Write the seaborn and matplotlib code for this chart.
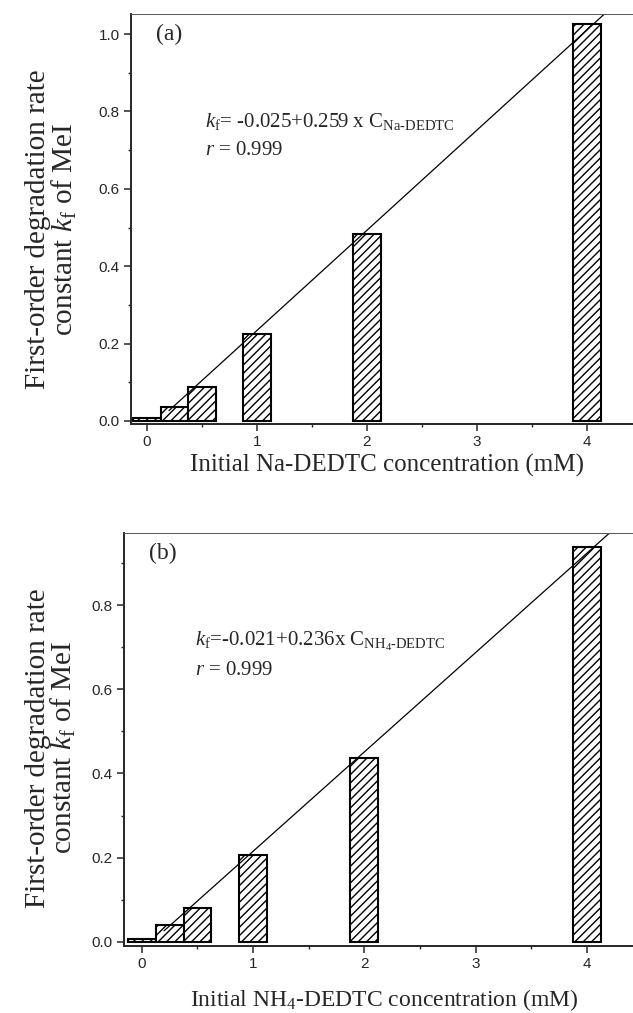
import numpy as np
import matplotlib
matplotlib.use("Agg")
import matplotlib.pyplot as plt
from matplotlib.ticker import MultipleLocator
import seaborn as sns

# data
conc_a = [0, 0.25, 0.5, 1, 2, 4]
kf_a = [0.007, 0.035, 0.089, 0.225, 0.483, 1.025]
conc_b = [0, 0.25, 0.5, 1, 2, 4]
kf_b = [0.006, 0.039, 0.081, 0.207, 0.436, 0.938]
fit_a = (-0.025, 0.259)   # intercept, slope
fit_b = (-0.021, 0.236)
line_x = np.array([0.2, 4.6])

sns.set_style("ticks")
plt.rcParams["font.family"] = ["Liberation Serif", "DejaVu Serif"]
plt.rcParams["mathtext.fontset"] = "custom"
plt.rcParams["mathtext.rm"] = "Liberation Serif"
plt.rcParams["mathtext.it"] = "Liberation Serif:italic"
plt.rcParams["hatch.linewidth"] = 1.0
plt.rcParams["hatch.color"] = "black"

fig = plt.figure(figsize=(6.33, 10.13), dpi=100)
ax1 = fig.add_axes([0.2070, 0.5814, 0.7930, 0.4048])
ax2 = fig.add_axes([0.1959, 0.0661, 0.8041, 0.4077])


def panel(ax, conc, kf, fit, xlim, ylim):
    sns.barplot(x=conc, y=kf, native_scale=True, width=1.0, color="white",
                saturation=1, edgecolor="black", linewidth=1.5, hatch="////",
                errorbar=None, ax=ax)
    ax.plot(line_x, fit[0] + fit[1] * line_x, color="black", lw=0.9)
    ax.set_xlim(*xlim)
    ax.set_ylim(*ylim)
    ax.xaxis.set_major_locator(MultipleLocator(1))
    ax.xaxis.set_minor_locator(MultipleLocator(0.5))
    ax.yaxis.set_major_locator(MultipleLocator(0.2))
    ax.yaxis.set_minor_locator(MultipleLocator(0.1))
    ax.tick_params(which="major", length=5, width=1.1, labelsize=11,
                   labelfontfamily="Liberation Sans", pad=3)
    ax.tick_params(which="minor", length=2.5, width=1.0)
    ax.spines["right"].set_visible(False)
    ax.spines["top"].set_linewidth(0.7)
    ax.spines["top"].set_color("#555555")
    ax.spines["left"].set_linewidth(1.4)
    ax.spines["bottom"].set_linewidth(1.4)
    ax.set_ylabel("First-order degradation rate\nconstant $k_{\\mathrm{f}}$ of MeI",
                  fontsize=21, linespacing=0.92)


panel(ax1, conc_a, kf_a, fit_a, (-0.145, 4.418), (-0.008, 1.052))
panel(ax2, conc_b, kf_b, fit_b, (-0.16, 4.415), (-0.010, 0.971))

ax1.set_xlabel("Initial Na-DEDTC concentration (mM)", fontsize=18)
ax2.set_xlabel("Initial NH$_4$-DEDTC concentration (mM)", fontsize=17)
ax1.xaxis.set_label_coords(0.51, -0.072)
ax2.xaxis.set_label_coords(0.511, -0.10)
ax1.yaxis.set_label_coords(-0.104, 0.475)
ax2.yaxis.set_label_coords(-0.090, 0.48)

ax1.text(0.05, 0.951, "(a)", transform=ax1.transAxes, fontsize=17, va="center")
ax1.text(0.147, 0.737, r"$k_{\mathrm{f}}$= -0.025+0.259 x C$_{\text{Na-DEDTC}}$",
         transform=ax1.transAxes, fontsize=15, va="center")
ax1.text(0.147, 0.668, r"$r$ = 0.999", transform=ax1.transAxes, fontsize=15, va="center")

ax2.text(0.05, 0.951, "(b)", transform=ax2.transAxes, fontsize=17, va="center")
ax2.text(0.14, 0.737, r"$k_{\mathrm{f}}$=-0.021+0.236x C$_{\text{NH}_4\text{-DEDTC}}$",
         transform=ax2.transAxes, fontsize=15, va="center")
ax2.text(0.14, 0.668, r"$r$ = 0.999", transform=ax2.transAxes, fontsize=15, va="center")

plt.savefig("out.png", dpi=100)
